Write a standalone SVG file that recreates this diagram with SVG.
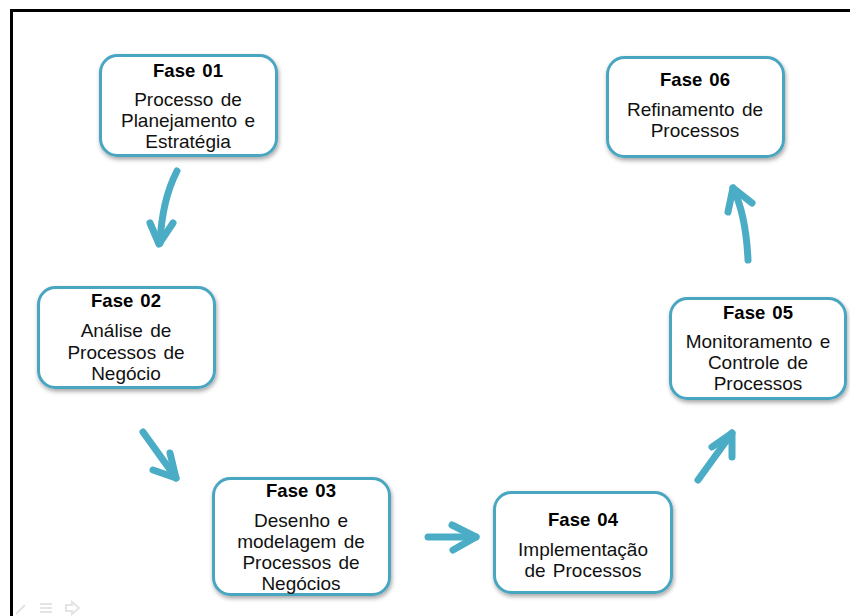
<svg xmlns="http://www.w3.org/2000/svg" width="850" height="616" viewBox="0 0 850 616">
  <defs>
    <filter id="shadow" x="-10%" y="-10%" width="120%" height="130%">
      <feDropShadow dx="1" dy="2.5" stdDeviation="2" flood-color="#000" flood-opacity="0.35"/>
    </filter>
  </defs>
  <style>
    .box { fill: #ffffff; stroke: #4aa6c1; stroke-width: 3; filter: url(#shadow); }
    .title { font-family: "Liberation Sans", Arial, sans-serif; font-size: 18.5px; font-weight: bold; fill: #000; text-anchor: middle; word-spacing: 2px; }
    .body { font-family: "Liberation Sans", Arial, sans-serif; font-size: 19px; fill: #111; text-anchor: middle; word-spacing: 2px; }
    .arrow { fill: none; stroke: #4bacc6; stroke-width: 7; stroke-linecap: round; stroke-linejoin: round; }
    .tool { fill: none; stroke: #e4e4e4; stroke-width: 2; }
  </style>

  <rect width="850" height="616" fill="#ffffff"/>

  <!-- slide frame -->
  <path d="M11.5,616 V10.5 H850" fill="none" stroke="#000" stroke-width="3"/>

  <!-- faint slideshow toolbar -->
  <g id="toolbar">
    <path class="tool" d="M16,614 L25,605"/>
    <path class="tool" d="M40,604 H52 M40,608 H52 M40,612 H52"/>
    <path class="tool" d="M66,605 H72 V602 L79,608 L72,614 V611 H66 Z"/>
  </g>

  <!-- connectors -->
  <g id="connectors">
    <path class="arrow" d="M177,171 Q162,200 160,243"/>
    <path class="arrow" d="M150,223 L159,244 L173,223"/>

    <path class="arrow" d="M143,432 L176,478"/>
    <path class="arrow" d="M170,453 L176,478 L153,470"/>

    <path class="arrow" d="M428,537 L476,537"/>
    <path class="arrow" d="M452,525 L476,537 L453,550"/>

    <path class="arrow" d="M698,480 L732,433"/>
    <path class="arrow" d="M712,447 L732,433 L732,457"/>

    <path class="arrow" d="M748,260 Q746,215 733,188"/>
    <path class="arrow" d="M728,212 L733,188 L752,203"/>
  </g>

  <g id="fase01">
    <rect class="box" x="100.5" y="55.5" width="176" height="100" rx="17"/>
    <text class="title" x="188" y="77">Fase 01</text>
    <text class="body" x="188" y="106">Processo de</text>
    <text class="body" x="188" y="127">Planejamento e</text>
    <text class="body" x="188" y="148">Estratégia</text>
  </g>

  <g id="fase02">
    <rect class="box" x="38.5" y="287.5" width="176" height="100" rx="17"/>
    <text class="title" x="126" y="307">Fase 02</text>
    <text class="body" x="126" y="337">Análise de</text>
    <text class="body" x="126" y="359">Processos de</text>
    <text class="body" x="126" y="380">Negócio</text>
  </g>

  <g id="fase03">
    <rect class="box" x="213.5" y="478.5" width="176" height="116" rx="17"/>
    <text class="title" x="301" y="497">Fase 03</text>
    <text class="body" x="301" y="527">Desenho e</text>
    <text class="body" x="301" y="548">modelagem de</text>
    <text class="body" x="301" y="569">Processos de</text>
    <text class="body" x="301" y="590">Negócios</text>
  </g>

  <g id="fase04">
    <rect class="box" x="494.5" y="492.5" width="177" height="100" rx="17"/>
    <text class="title" x="583" y="526">Fase 04</text>
    <text class="body" x="583" y="556">Implementação</text>
    <text class="body" x="583" y="577">de Processos</text>
  </g>

  <g id="fase05">
    <rect class="box" x="670.5" y="298.5" width="175" height="100" rx="17"/>
    <text class="title" x="758" y="319">Fase 05</text>
    <text class="body" x="758" y="348">Monitoramento e</text>
    <text class="body" x="758" y="369">Controle de</text>
    <text class="body" x="758" y="390">Processos</text>
  </g>

  <g id="fase06">
    <rect class="box" x="607.5" y="57.5" width="176" height="99" rx="17"/>
    <text class="title" x="695" y="86">Fase 06</text>
    <text class="body" x="695" y="116">Refinamento de</text>
    <text class="body" x="695" y="137">Processos</text>
  </g>
</svg>
